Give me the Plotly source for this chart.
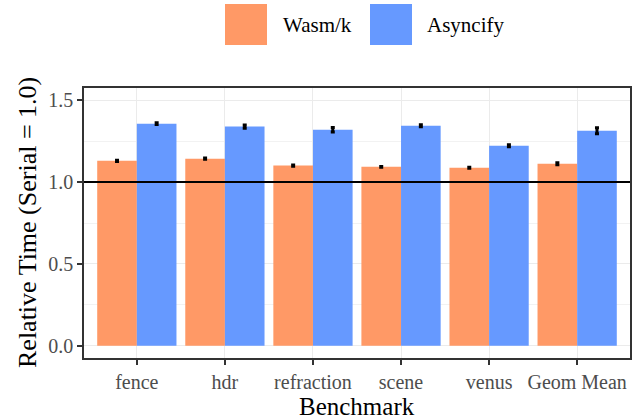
import plotly.graph_objects as go

benchmarks = ["fence", "hdr", "refraction", "scene", "venus", "Geom Mean"]
wasmk = [1.130, 1.143, 1.101, 1.093, 1.088, 1.112]
wasmk_err = [0.004, 0.004, 0.004, 0.003, 0.003, 0.006]
asyncify = [1.357, 1.339, 1.320, 1.344, 1.222, 1.314]
asyncify_err = [0.005, 0.010, 0.014, 0.006, 0.006, 0.018]
series_names = ["Wasm/k", "Asyncify"]
colors = ["#FF9966", "#6699FF"]
baseline = 1.0
yticks = [0.0, 0.5, 1.0, 1.5]

FONT = "Liberation Serif"
W, H = 640, 419
ML, MR, MT, MB = 84, 10, 88, 61

fig = go.Figure()
for name, vals, errs, col in [(series_names[0], wasmk, wasmk_err, colors[0]),
                              (series_names[1], asyncify, asyncify_err, colors[1])]:
    fig.add_trace(go.Bar(
        x=benchmarks, y=vals, name=name, marker_color=col, marker_line_width=0,
        error_y=dict(type="data", array=errs, color="black", thickness=3, width=2),
        showlegend=False,
    ))

fig.add_shape(type="line", xref="paper", x0=0, x1=1, yref="y", y0=baseline, y1=baseline,
              line=dict(color="black", width=2))


def px_to_paper_x(px):
    return (px - ML) / (W - ML - MR)


def px_to_paper_y(py):
    return (H - MB - py) / (H - MT - MB)


# legend drawn manually (large keys)
legend_items = [(series_names[0], colors[0], 225, 281), (series_names[1], colors[1], 370, 425)]
for name, col, bx, tx in legend_items:
    fig.add_shape(type="rect", xref="paper", yref="paper",
                  x0=px_to_paper_x(bx), x1=px_to_paper_x(bx + 42),
                  y0=px_to_paper_y(45), y1=px_to_paper_y(4),
                  fillcolor=col, line_width=0)
    fig.add_annotation(text=name, xref="paper", yref="paper", x=px_to_paper_x(tx),
                       y=px_to_paper_y(25), xanchor="left", yanchor="middle",
                       showarrow=False, font=dict(family=FONT, size=21, color="black"))

# axis titles
fig.add_annotation(text="Benchmark", xref="paper", yref="paper", x=0.5, y=px_to_paper_y(406),
                   xanchor="center", yanchor="middle", showarrow=False,
                   font=dict(family=FONT, size=25, color="black"))
fig.add_annotation(text="Relative Time (Serial = 1.0)", xref="paper", yref="paper",
                   x=px_to_paper_x(27), y=0.5, textangle=-90,
                   xanchor="center", yanchor="middle", showarrow=False,
                   font=dict(family=FONT, size=26, color="black"))

fig.update_layout(
    width=W, height=H, margin=dict(l=ML, r=MR, t=MT, b=MB),
    paper_bgcolor="white", plot_bgcolor="white",
    barmode="group", bargap=0.1, bargroupgap=0,
    font=dict(family=FONT, color="#4D4D4D", size=20),
    showlegend=False,
)
fig.update_xaxes(
    range=[-0.6, 5.6], automargin=False, showgrid=True, gridcolor="#EBEBEB", gridwidth=1.3,
    showline=True, mirror=True, linecolor="#333333", linewidth=1.5,
    ticks="outside", ticklen=5, tickwidth=1.5, tickcolor="#333333",
    tickfont=dict(family=FONT, size=20, color="#4D4D4D"),
)
fig.update_yaxes(
    range=[-0.075, 1.575], automargin=False, tickvals=yticks, ticktext=[f"{v:.1f}" for v in yticks],
    showgrid=True, gridcolor="#EBEBEB", gridwidth=1.3, zeroline=False,
    minor=dict(tickvals=[0.25, 0.75, 1.25], showgrid=True, gridcolor="#F2F2F2", gridwidth=0.8, ticks=""),
    showline=True, mirror=True, linecolor="#333333", linewidth=1.5,
    ticks="outside", ticklen=5, tickwidth=1.5, tickcolor="#333333",
    tickfont=dict(family=FONT, size=20, color="#4D4D4D"),
)

fig.write_html("out.html", config={"displayModeBar": False},
               post_script="document.body.style.margin='0px';document.body.style.overflow='hidden';")
